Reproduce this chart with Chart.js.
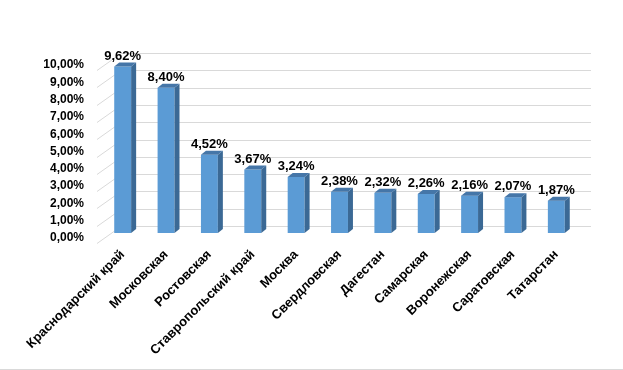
<!DOCTYPE html>
<html>
<head>
<meta charset="utf-8">
<script src="https://cdn.jsdelivr.net/npm/chart.js@4.4.1/dist/chart.umd.min.js"></script>
<style>
  body { margin: 0; background: #fff; }
  #wrap { width: 623px; height: 369px; border-bottom: 1px solid #d9d9d9; }
</style>
</head>
<body>
<div id="wrap"><canvas id="chart" width="623" height="369"></canvas></div>
<script>
// regions and their share, %
const regions = [
  'Краснодарский край', 'Московская', 'Ростовская', 'Ставропольский край', 'Москва',
  'Свердловская', 'Дагестан', 'Самарская', 'Воронежская', 'Саратовская', 'Татарстан'
];
const shares = [9.62, 8.40, 4.52, 3.67, 3.24, 2.38, 2.32, 2.26, 2.16, 2.07, 1.87];
const yTicks = [0, 1, 2, 3, 4, 5, 6, 7, 8, 9, 10];

const FONT = "'Liberation Sans', Arial, sans-serif";
const fmt = v => v.toFixed(2).replace('.', ',') + '%';

// back wall grid with the little 3D floor slant on the left
const wallGrid = {
  id: 'wallGrid',
  beforeDatasetsDraw(chart) {
    const { ctx, chartArea } = chart;
    const y = chart.scales.y;
    ctx.save();
    ctx.strokeStyle = '#d9d9d9';
    ctx.lineWidth = 1;
    yTicks.forEach(v => {
      const p = Math.round(y.getPixelForValue(v)) + 0.5;
      ctx.beginPath();
      ctx.moveTo(chartArea.left - 4, p + 10);
      ctx.lineTo(chartArea.left + 20, p - 7);
      ctx.lineTo(chartArea.right + 13, p - 7);
      ctx.stroke();
    });
    ctx.restore();
  }
};

// side + top faces of the bars, and the value labels
const bars3d = {
  id: 'bars3d',
  afterDatasetsDraw(chart) {
    const { ctx } = chart;
    const meta = chart.getDatasetMeta(0);
    const dx = 5, dy = 4;
    ctx.save();
    meta.data.forEach((bar, i) => {
      const l = bar.x - bar.width / 2, r = bar.x + bar.width / 2;
      const t = bar.y, b = bar.base;
      ctx.fillStyle = '#3b6995';
      ctx.beginPath();
      ctx.moveTo(r, t); ctx.lineTo(r + dx, t - dy); ctx.lineTo(r + dx, b - dy); ctx.lineTo(r, b);
      ctx.closePath(); ctx.fill();
      ctx.fillStyle = '#4576a8';
      ctx.beginPath();
      ctx.moveTo(l, t); ctx.lineTo(l + dx, t - dy); ctx.lineTo(r + dx, t - dy); ctx.lineTo(r, t);
      ctx.closePath(); ctx.fill();

      ctx.fillStyle = '#000';
      ctx.font = 'bold 13px ' + FONT;
      ctx.textAlign = 'center';
      ctx.textBaseline = 'bottom';
      ctx.fillText(fmt(shares[i]), bar.x, t - 4);
    });
    ctx.restore();
  }
};

new Chart(document.getElementById('chart'), {
  type: 'bar',
  data: {
    labels: regions,
    datasets: [{
      data: shares,
      backgroundColor: '#5b9bd5',
      borderWidth: 0,
      categoryPercentage: 1,
      barPercentage: 0.39
    }]
  },
  options: {
    responsive: false,
    animation: false,
    layout: { padding: { left: 43, right: 45, top: 60, bottom: 0 } },
    plugins: { legend: { display: false }, tooltip: { enabled: false } },
    scales: {
      x: {
        grid: { display: false, drawTicks: false },
        border: { display: false },
        afterFit: s => { s.height = 136; s.paddingLeft = 0; s.paddingRight = 0; },
        ticks: {
          autoSkip: false,
          minRotation: 45,
          maxRotation: 45,
          padding: 14,
          color: '#000',
          font: { family: FONT, size: 13, weight: 'bold' }
        }
      },
      y: {
        min: 0,
        max: 10,
        grid: { display: false, drawTicks: false },
        border: { display: false },
        afterFit: s => { s.width = 58; },
        ticks: {
          stepSize: 1,
          autoSkip: false,
          padding: 17,
          labelOffset: 5,
          color: '#000',
          font: { family: FONT, size: 12, weight: 'bold' },
          callback: v => fmt(v)
        }
      }
    }
  },
  plugins: [wallGrid, bars3d]
});
</script>
</body>
</html>
